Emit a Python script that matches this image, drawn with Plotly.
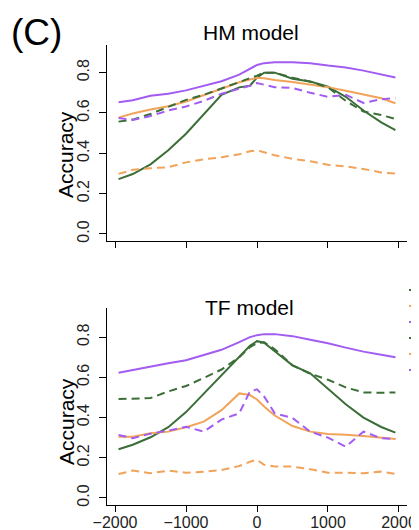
import plotly.graph_objects as go

# ---------------- data ----------------
positions = [-1950, -1750, -1500, -1250, -1000, -750, -500, -250, -100, 0,
             100, 250, 500, 750, 1000, 1250, 1500, 1750, 1950]

hm_green_solid = [0.272, 0.297, 0.345, 0.415, 0.497, 0.592, 0.690, 0.727, 0.735, 0.775,
                  0.800, 0.800, 0.770, 0.756, 0.730, 0.680, 0.612, 0.553, 0.515]
hm_orange_solid = [0.577, 0.597, 0.617, 0.633, 0.657, 0.687, 0.720, 0.752, 0.768, 0.775,
                   0.772, 0.763, 0.754, 0.740, 0.728, 0.710, 0.693, 0.673, 0.648]
hm_purple_solid = [0.653, 0.663, 0.685, 0.695, 0.712, 0.735, 0.757, 0.790, 0.820, 0.838,
                   0.847, 0.851, 0.851, 0.847, 0.835, 0.825, 0.810, 0.792, 0.776]
hm_green_dashed = [0.557, 0.567, 0.595, 0.630, 0.665, 0.690, 0.722, 0.752, 0.770, 0.785,
                   0.800, 0.800, 0.775, 0.755, 0.727, 0.660, 0.607, 0.590, 0.570]
hm_orange_dashed = [0.298, 0.318, 0.326, 0.331, 0.355, 0.370, 0.380, 0.395, 0.410, 0.415,
                    0.405, 0.390, 0.373, 0.360, 0.343, 0.335, 0.322, 0.305, 0.299]
hm_purple_dashed = [0.575, 0.565, 0.585, 0.612, 0.632, 0.660, 0.695, 0.718, 0.735, 0.748,
                    0.740, 0.728, 0.724, 0.700, 0.680, 0.690, 0.650, 0.668, 0.673]

tf_green_solid = [0.242, 0.265, 0.302, 0.352, 0.427, 0.520, 0.611, 0.705, 0.757, 0.780,
                  0.772, 0.730, 0.660, 0.620, 0.545, 0.466, 0.400, 0.353, 0.325]
tf_orange_solid = [0.305, 0.305, 0.322, 0.330, 0.352, 0.380, 0.437, 0.520, 0.512, 0.490,
                   0.455, 0.410, 0.358, 0.330, 0.318, 0.315, 0.308, 0.300, 0.293]
tf_purple_solid = [0.623, 0.637, 0.654, 0.670, 0.685, 0.710, 0.737, 0.775, 0.800, 0.810,
                   0.815, 0.815, 0.805, 0.787, 0.770, 0.748, 0.728, 0.712, 0.700]
tf_green_dashed = [0.492, 0.495, 0.497, 0.530, 0.557, 0.597, 0.639, 0.700, 0.750, 0.770,
                   0.775, 0.740, 0.660, 0.618, 0.588, 0.550, 0.525, 0.523, 0.525]
tf_orange_dashed = [0.119, 0.136, 0.123, 0.136, 0.126, 0.130, 0.139, 0.159, 0.180, 0.190,
                    0.165, 0.156, 0.156, 0.143, 0.125, 0.126, 0.123, 0.131, 0.120]
tf_purple_dashed = [0.313, 0.297, 0.320, 0.335, 0.354, 0.330, 0.390, 0.421, 0.530, 0.540,
                    0.505, 0.421, 0.398, 0.330, 0.300, 0.255, 0.330, 0.297, 0.293]

x_ticks = [-2000, -1000, 0, 1000, 2000]
y_ticks = [0.0, 0.2, 0.4, 0.6, 0.8]

# ---------------- styling ----------------
OFF = 8                      # page body margin in the browser
W, H = 419 - OFF, 530 - OFF
# plot area in window pixels: x 107..407 ; overall y 45..505
ML, MR = 107 - OFF, 419 - 407
MT, MB = 45 - OFF, 530 - 505
PW, PH = W - ML - MR, H - MT - MB
FONT = "Liberation Sans, Arial, Helvetica, sans-serif"

GREEN = "#3b6e37"
ORANGE = "#f2a35a"
PURPLE = "#a25cf2"
DASH = "8px,5px"


def px_x(px):
    """window pixel x -> paper fraction"""
    return (px - OFF - ML) / PW


def px_y(py):
    """window pixel y -> paper fraction"""
    return (H - MB - (py - OFF)) / PH


top_dom = [px_y(241), 1.0]
bot_dom = [0.0, px_y(308)]

styles = [(GREEN, "solid"), (ORANGE, "solid"), (PURPLE, "solid"),
          (GREEN, DASH), (ORANGE, DASH), (PURPLE, DASH)]
hm_series = [hm_green_solid, hm_orange_solid, hm_purple_solid,
             hm_green_dashed, hm_orange_dashed, hm_purple_dashed]
tf_series = [tf_green_solid, tf_orange_solid, tf_purple_solid,
             tf_green_dashed, tf_orange_dashed, tf_purple_dashed]

fig = go.Figure()
for i, (vals, (col, dash)) in enumerate(zip(hm_series, styles)):
    fig.add_trace(go.Scatter(x=positions, y=vals, mode="lines", name="",
                             line=dict(color=col, width=2, dash=dash),
                             xaxis="x", yaxis="y", showlegend=False))
# legend labels lie beyond the right edge of the reference image: only the
# line keys are visible there, so the legend entries carry no text
for i, (vals, (col, dash)) in enumerate(zip(tf_series, styles)):
    lg = "legend" if i == 0 else f"legend{i+1}"
    fig.add_trace(go.Scatter(x=positions, y=vals, mode="lines", name="",
                             line=dict(color=col, width=2, dash=dash),
                             xaxis="x2", yaxis="y2", showlegend=True, legend=lg))

axis_common = dict(showline=True, linecolor="black", linewidth=1, ticks="outside",
                   tickwidth=1, tickcolor="black", showgrid=False,
                   zeroline=False, tickfont=dict(family=FONT, size=16, color="#222222"))

fig.update_layout(
    width=W, height=H,
    margin=dict(l=ML, r=MR, t=MT, b=MB, autoexpand=False),
    paper_bgcolor="white", plot_bgcolor="white",
    font=dict(family=FONT, color="#222222"),
    xaxis=dict(domain=[0, 1], range=[-2113, 2113], tickvals=x_ticks, ticklen=6,
               showticklabels=False, anchor="y", **axis_common),
    yaxis=dict(domain=top_dom, range=[-0.035, 0.937], tickvals=y_ticks, tickformat=".1f",
               ticklen=7, tickangle=-90, anchor="x", ticklabelstandoff=4, **axis_common),
    xaxis2=dict(domain=[0, 1], range=[-2113, 2113], tickvals=x_ticks, anchor="y2",
                ticklen=6, ticklabelstandoff=-3, **axis_common),
    yaxis2=dict(domain=bot_dom, range=[-0.035, 0.945], tickvals=y_ticks, tickformat=".1f",
                ticklen=7, tickangle=-90, anchor="x2", ticklabelstandoff=4, **axis_common),
)

legend_y = [290, 306, 322, 338, 354, 370]
legends = {}
for i, ly in enumerate(legend_y):
    key = "legend" if i == 0 else f"legend{i+1}"
    legends[key] = dict(x=px_x(404), xanchor="left", y=px_y(ly), yanchor="middle",
                        bgcolor="rgba(0,0,0,0)", borderwidth=0,
                        font=dict(family=FONT, size=12, color="#222222"))
fig.update_layout(**legends)

ann = []
ann.append(dict(text="(C)", x=px_x(36), y=px_y(32), font=dict(size=37)))
ann.append(dict(text="HM model", x=px_x(251), y=px_y(33), font=dict(size=21)))
ann.append(dict(text="TF model", x=px_x(249), y=px_y(308), font=dict(size=21)))
ann.append(dict(text="Accuracy", x=px_x(66), y=px_y(155), textangle=-90, font=dict(size=21)))
ann.append(dict(text="Accuracy", x=px_x(66), y=px_y(422), textangle=-90, font=dict(size=21)))
for a in ann:
    a.update(xref="paper", yref="paper", xanchor="center", yanchor="middle", showarrow=False)
    a["font"].update(family=FONT, color="black")
fig.update_layout(annotations=ann)

fig.write_html("out.html")
